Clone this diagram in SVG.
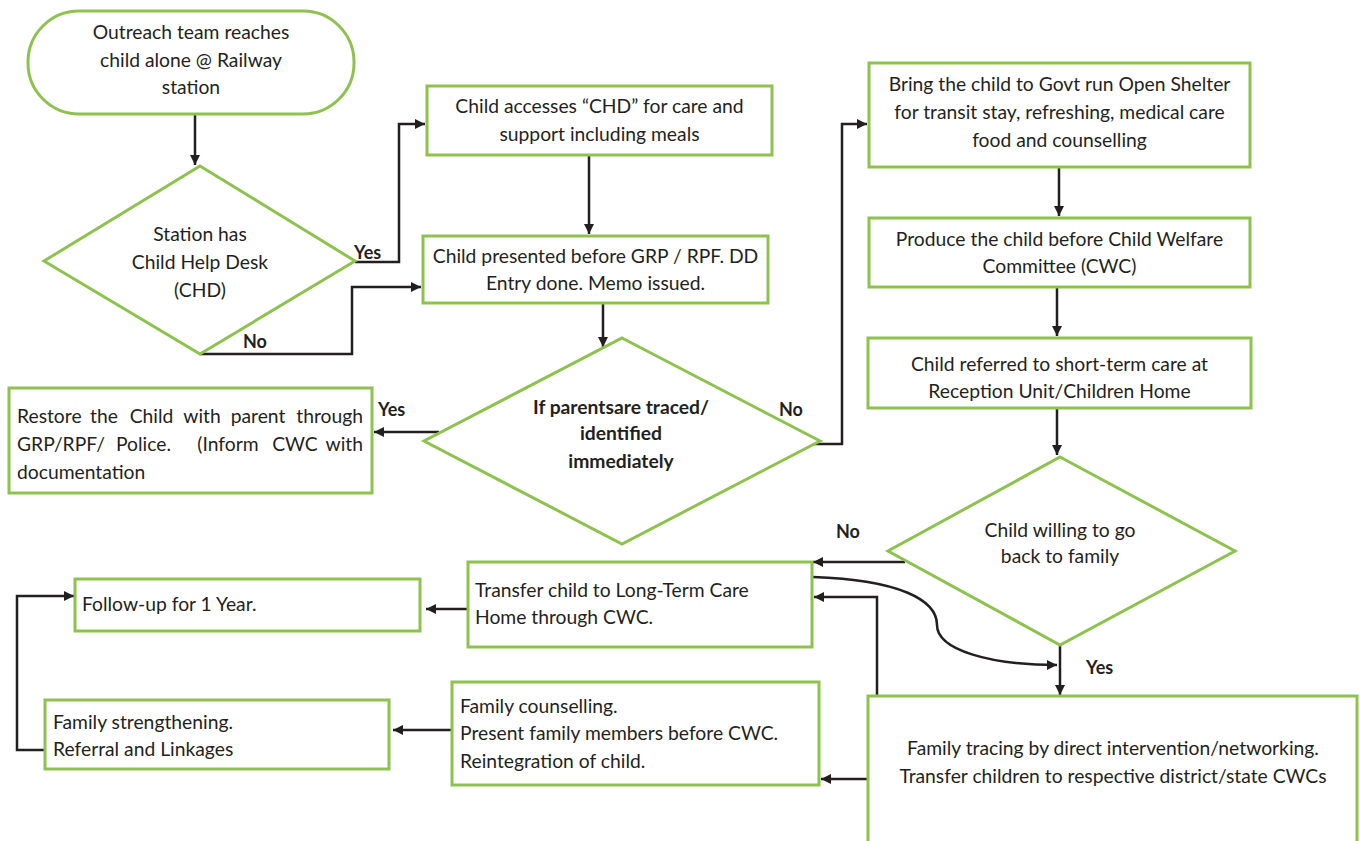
<svg xmlns="http://www.w3.org/2000/svg" width="1360" height="841" viewBox="0 0 1360 841">
<style>
.n{fill:#fff;stroke:#8dc24e;stroke-width:3}
.t{font-family:Lato,"Liberation Sans",sans-serif;font-size:19.3px;fill:#231f20}
.c{text-anchor:middle}
.r{text-anchor:end}
.b{font-weight:bold}
.l{font-family:Lato,"Liberation Sans",sans-serif;font-size:18px;font-weight:bold;fill:#231f20}
.e{fill:none;stroke:#231f20;stroke-width:2.5}
</style>
<defs>
<marker id="a" markerUnits="userSpaceOnUse" markerWidth="11" markerHeight="11" refX="10" refY="5" orient="auto">
<path d="M0,0 L10,5 L0,10 z" fill="#231f20"/>
</marker>
</defs>
<rect width="1360" height="841" fill="#fff"/>
<g id="connectors">
<path class="e" marker-end="url(#a)" d="M195,114 V165"/>
<path class="e" marker-end="url(#a)" d="M355,262 H399 V124 H425"/>
<path class="e" marker-end="url(#a)" d="M200,354 H352 V287 H421"/>
<path class="e" marker-end="url(#a)" d="M589,155 V234"/>
<path class="e" marker-end="url(#a)" d="M603,303 V347"/>
<path class="e" marker-end="url(#a)" d="M439,432 H374"/>
<path class="e" marker-end="url(#a)" d="M812,444 H842 V124 H867"/>
<path class="e" marker-end="url(#a)" d="M1059,167 V216"/>
<path class="e" marker-end="url(#a)" d="M1057,287 V336"/>
<path class="e" marker-end="url(#a)" d="M1057,408 V455"/>
<path class="e" marker-end="url(#a)" d="M905,562 H813"/>
<path class="e" marker-end="url(#a)" d="M813,577 C900,580 937,600 937,625 C937,650 990,665 1057,665"/>
<path class="e" marker-end="url(#a)" d="M1060,645 V695"/>
<path class="e" marker-end="url(#a)" d="M877,697 V597 H814"/>
<path class="e" marker-end="url(#a)" d="M868,779 H821"/>
<path class="e" marker-end="url(#a)" d="M468,609 H426"/>
<path class="e" marker-end="url(#a)" d="M452,730 H393"/>
<path class="e" marker-end="url(#a)" d="M45,750 H17 V596 H74"/>
</g>
<g id="start">
<rect class="n" x="28" y="11" width="326" height="103" rx="51" ry="51"/>
<text class="t c" x="191" y="39">Outreach team reaches</text>
<text class="t c" x="191" y="67">child alone @ Railway</text>
<text class="t c" x="191" y="94">station</text>
</g>
<g id="d1">
<polygon class="n" points="200,166 355,261 200,354 44,261"/>
<text class="t c" x="200" y="241">Station has</text>
<text class="t c" x="200" y="269">Child Help Desk</text>
<text class="t c" x="200" y="297">(CHD)</text>
</g>
<g id="chd">
<rect class="n" x="427" y="86" width="345" height="69"/>
<text class="t c" x="599.5" y="113">Child accesses “CHD” for care and</text>
<text class="t c" x="599.5" y="141">support including meals</text>
</g>
<g id="grp">
<rect class="n" x="423" y="236" width="345" height="67"/>
<text class="t c" x="595.5" y="263">Child presented before GRP / RPF. DD</text>
<text class="t c" x="595.5" y="290">Entry done. Memo issued.</text>
</g>
<g id="d2">
<polygon class="n" points="622,338 820,441 622,544 424,441"/>
<text class="t c b" x="621" y="414">If parentsare traced/</text>
<text class="t c b" x="621" y="440">identified</text>
<text class="t c b" x="621" y="468">immediately</text>
</g>
<g id="restore">
<rect class="n" x="9" y="388" width="363" height="105"/>
<text class="t" x="17" y="423">Restore</text>
<text class="t c" x="104" y="423">the</text>
<text class="t c" x="151.5" y="423">Child</text>
<text class="t c" x="202" y="423">with</text>
<text class="t c" x="258" y="423">parent</text>
<text class="t r" x="363" y="423">through</text>
<text class="t" x="17" y="451">GRP/RPF/</text>
<text class="t" x="116" y="451">Police.</text>
<text class="t c" x="228" y="451">(Inform</text>
<text class="t c" x="295" y="451">CWC</text>
<text class="t r" x="363" y="451">with</text>
<text class="t" x="17" y="479">documentation</text>
</g>
<g id="shelter">
<rect class="n" x="869" y="63" width="381" height="104"/>
<text class="t c" x="1059.5" y="91">Bring the child to Govt run Open Shelter</text>
<text class="t c" x="1059.5" y="119">for transit stay, refreshing, medical care</text>
<text class="t c" x="1059.5" y="147">food and counselling</text>
</g>
<g id="cwc">
<rect class="n" x="869" y="218" width="381" height="69"/>
<text class="t c" x="1059.5" y="246">Produce the child before Child Welfare</text>
<text class="t c" x="1059.5" y="273">Committee (CWC)</text>
</g>
<g id="reception">
<rect class="n" x="868" y="338" width="383" height="70"/>
<text class="t c" x="1059.5" y="371">Child referred to short-term care at</text>
<text class="t c" x="1059.5" y="398">Reception Unit/Children Home</text>
</g>
<g id="d3">
<polygon class="n" points="1060,457 1235,551 1060,645 888,551"/>
<text class="t c" x="1060" y="537">Child willing to go</text>
<text class="t c" x="1060" y="563">back to family</text>
</g>
<g id="longterm">
<rect class="n" x="468" y="562" width="344" height="85"/>
<text class="t" x="475" y="597">Transfer child to Long-Term Care</text>
<text class="t" x="475" y="624">Home through CWC.</text>
</g>
<g id="tracing">
<rect class="n" x="868" y="696" width="489" height="170"/>
<text class="t c" x="1113" y="755">Family tracing by direct intervention/networking.</text>
<text class="t c" x="1113" y="783">Transfer children to respective district/state CWCs</text>
</g>
<g id="counselling">
<rect class="n" x="452" y="682" width="367" height="103"/>
<text class="t" x="460" y="713">Family counselling.</text>
<text class="t" x="460" y="740">Present family members before CWC.</text>
<text class="t" x="460" y="768">Reintegration of child.</text>
</g>
<g id="followup">
<rect class="n" x="75" y="579" width="345" height="52"/>
<text class="t" x="82" y="611">Follow-up for 1 Year.</text>
</g>
<g id="strength">
<rect class="n" x="45" y="700" width="344" height="69"/>
<text class="t" x="53" y="729">Family strengthening.</text>
<text class="t" x="53" y="756">Referral and Linkages</text>
</g>
<g id="labels">
<text class="l" x="354" y="259">Yes</text>
<text class="l" x="243" y="348">No</text>
<text class="l" x="378" y="416">Yes</text>
<text class="l" x="779" y="416">No</text>
<text class="l" x="836" y="538">No</text>
<text class="l" x="1086" y="674">Yes</text>
</g>
</svg>
